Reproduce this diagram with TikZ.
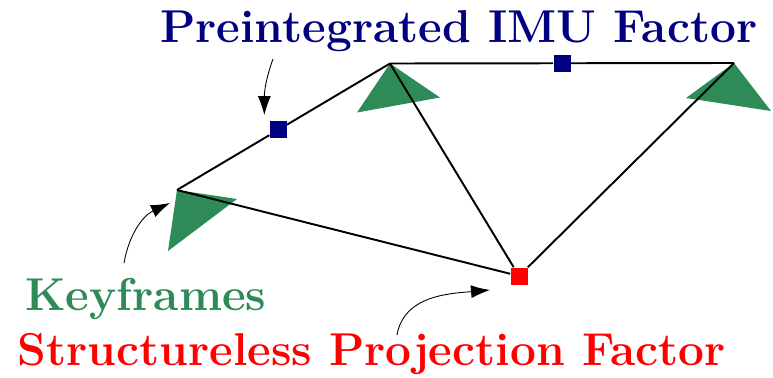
\documentclass[tikz,border=0pt]{standalone}
\definecolor{kfgreen}{RGB}{46,139,87}
\definecolor{imublue}{RGB}{0,0,128}
\definecolor{projred}{RGB}{255,0,0}
\usetikzlibrary{arrows.meta}

\begin{document}
\begin{tikzpicture}[
  edge/.style={line width=1.1pt, black},
  imu/.style={fill=imublue, inner sep=0pt, minimum size=0.34cm},
  proj/.style={fill=projred, inner sep=0pt, minimum size=0.34cm},
  kfpose/.style={fill=kfgreen},
  lbl/.style={font=\fontsize{26.2}{31}\selectfont\bfseries, inner sep=0pt},
  callout/.style={-{Latex[length=0.38cm, width=0.26cm]}, line width=0.5pt, black},
]
\useasboundingbox (0,0) rectangle (15.46,-7.56);

% ---- keyframes ----
\coordinate (kf-a) at (3.54,-3.80);
\coordinate (kf-b) at (7.80,-1.27);
\coordinate (kf-c) at (14.68,-1.26);

\fill[kfpose] (kf-a) -- ++(1.20,-0.18) -- ([shift={(-0.18,-1.22)}]kf-a) -- cycle;
\fill[kfpose] (kf-b) -- ++(1.00,-0.68) -- ([shift={(-0.66,-0.98)}]kf-b) -- cycle;
\fill[kfpose] (kf-c) -- ++(0.74,-0.96) -- ([shift={(-0.96,-0.70)}]kf-c) -- cycle;

% ---- factors ----
\path (kf-a) -- (kf-b) node[imu, pos=0.475] (imu-ab) {};
\path (kf-b) -- (kf-c) node[imu, pos=0.5] (imu-bc) {};
\node[proj] (proj-r) at (10.38,-5.52) {};

\draw[edge] (kf-a) -- (imu-ab) -- (kf-b);
\draw[edge] (kf-b) -- (imu-bc) -- (kf-c);
\draw[edge] (kf-a) -- (proj-r);
\draw[edge] (kf-b) -- (proj-r);
\draw[edge] (kf-c) -- (proj-r);

% ---- labels ----
\node[lbl, text=imublue, anchor=base west] (lbl-imu) at (3.20,-0.84)
  {Preintegrated IMU Factor};
\node[lbl, text=kfgreen, anchor=base west] (lbl-kf) at (0.50,-6.20)
  {Keyframes};
\node[lbl, text=projred, anchor=base west] (lbl-proj) at (0.34,-7.30)
  {Structureless Projection Factor};

\coordinate (imu-tail) at (5.46,-1.18);
\coordinate (kf-tail) at (2.48,-5.26);
\coordinate (proj-tail) at (7.94,-6.70);

\draw[callout] (imu-tail) to[out=-110, in=90] ([shift={(-0.10,0.12)}]imu-ab.north west);
\draw[callout] (kf-tail) to[out=80, in=205] ([shift={(-0.14,-0.26)}]kf-a);
\draw[callout] (proj-tail) to[out=80, in=185] ([shift={(-0.58,-0.28)}]proj-r.center);

\end{tikzpicture}
\end{document}
